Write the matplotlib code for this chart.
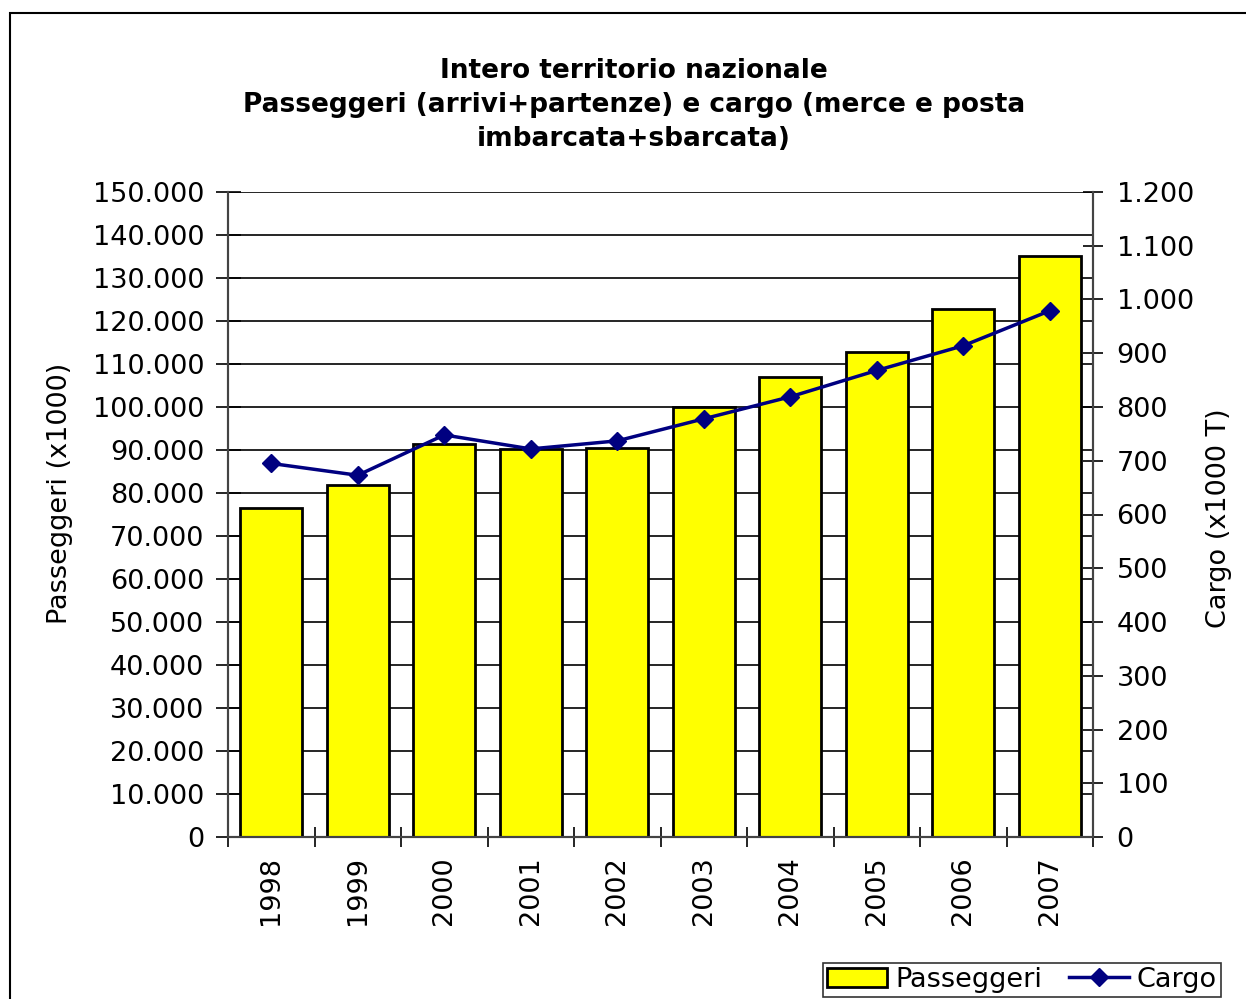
import matplotlib.pyplot as plt
import numpy as np
from matplotlib.patches import Rectangle
from matplotlib.ticker import FuncFormatter, MultipleLocator

years = ["1998", "1999", "2000", "2001", "2002", "2003", "2004", "2005", "2006", "2007"]
passeggeri = [76400, 81900, 91300, 90200, 90400, 99900, 106900, 112700, 122700, 135200]
cargo = [695, 673, 748, 722, 737, 778, 819, 868, 914, 979]

FONT = "DejaVu Sans"
FS = 19.5


def it_fmt(v, pos):
    # Italian thousands separator
    return f"{int(round(v)):,}".replace(",", ".")


fig = plt.figure(figsize=(12.46, 9.99), dpi=100)
ax = fig.add_axes([228 / 1246, 1 - 837 / 999, (1093 - 228) / 1246, (837 - 192) / 999])
ax2 = ax.twinx()

x = np.arange(len(years))
bars = ax.bar(x, passeggeri, width=0.72, color="#FFFF00", edgecolor="black",
              linewidth=2, zorder=2, label="Passeggeri")
line, = ax2.plot(x, cargo, color="#000080", linewidth=2.5, marker="D",
                 markersize=9, zorder=3, label="Cargo")

ax.set_xlim(-0.5, len(years) - 0.5)
ax.set_ylim(0, 150000)
ax2.set_ylim(0, 1200)
ax.yaxis.set_major_locator(MultipleLocator(10000))
ax2.yaxis.set_major_locator(MultipleLocator(100))
ax.yaxis.set_major_formatter(FuncFormatter(it_fmt))
ax2.yaxis.set_major_formatter(FuncFormatter(it_fmt))

# horizontal grid
ax.grid(axis="y", color="black", linewidth=1.2, zorder=0)
ax.set_axisbelow(True)

# x ticks at category boundaries, labels centred
ax.set_xticks(np.arange(len(years) + 1) - 0.5)
ax.set_xticklabels([])
ax.set_xticks(x, minor=True)
ax.set_xticklabels(years, minor=True, rotation=90, fontsize=FS, family=FONT)
ax.tick_params(axis="x", which="major", direction="inout", length=14, width=1.2)
ax.tick_params(axis="x", which="minor", length=0, pad=14)

ax.tick_params(axis="y", direction="inout", length=18, width=1.2, labelsize=FS, pad=8)
ax2.tick_params(axis="y", direction="inout", length=14, width=1.2, labelsize=FS, pad=10)
for lab in ax.get_yticklabels() + ax2.get_yticklabels():
    lab.set_family(FONT)

for a in (ax, ax2):
    a.spines["top"].set_visible(False)
    for sp in a.spines.values():
        sp.set_linewidth(1.5)
        sp.set_color("#444444")

ax.set_ylabel("Passeggeri (x1000)", fontsize=FS, family=FONT)
ax.yaxis.set_label_coords((73 - 228) / 865, 1 - (493 - 192) / 645)
ax2.set_ylabel("Cargo (x1000 T)", fontsize=FS, family=FONT)
ax2.yaxis.set_label_coords((1206 - 228) / 865, 1 - (518 - 192) / 645)

fig.text(634 / 1246, 1 - 105 / 999,
         "Intero territorio nazionale\nPasseggeri (arrivi+partenze) e cargo (merce e posta\nimbarcata+sbarcata)",
         ha="center", va="center", fontsize=19, fontweight="bold", family=FONT,
         linespacing=1.38)

leg = fig.legend([bars, line], ["Passeggeri", "Cargo"], loc="lower right",
                 bbox_to_anchor=(1221 / 1246, 1 - 997 / 999), ncol=2,
                 frameon=True, fancybox=False, edgecolor="black",
                 borderpad=0.15, borderaxespad=0, handlelength=2.2,
                 columnspacing=1.0, handletextpad=0.3,
                 prop={"family": FONT, "size": FS})
leg.get_frame().set_linewidth(1.2)

# outer chart-area border (clipped by image edge on right and bottom)
fig.patches.append(Rectangle((10 / 1246, -0.1), 1.2, (999 - 13) / 999 + 0.1,
                             transform=fig.transFigure, fill=False,
                             edgecolor="black", linewidth=1.5, zorder=0))

fig.savefig("out.png", dpi=100)
